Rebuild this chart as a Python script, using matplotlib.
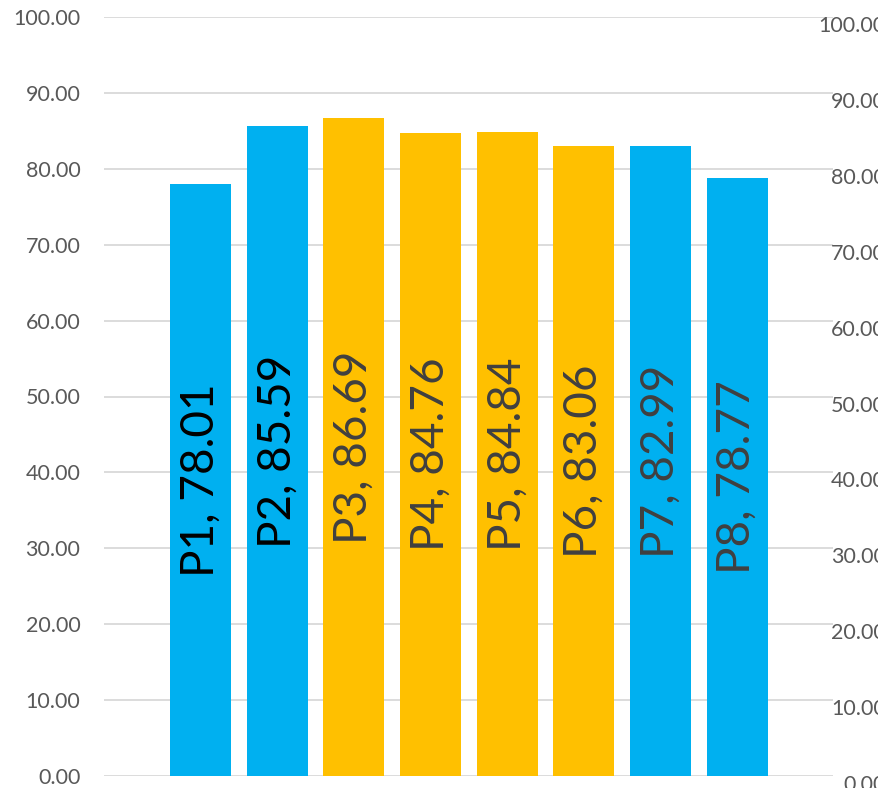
import matplotlib.pyplot as plt
import matplotlib.transforms as mtransforms

# data
labels = ["P1", "P2", "P3", "P4", "P5", "P6", "P7", "P8"]
values = [78.01, 85.59, 86.69, 84.76, 84.84, 83.06, 82.99, 78.77]
groups = ["blue", "blue", "yellow", "yellow", "yellow", "yellow", "blue", "blue"]
label_colors = ["#000000", "#000000", "#404040", "#404040", "#404040", "#404040", "#404040", "#404040"]
y_ticks = [0, 10, 20, 30, 40, 50, 60, 70, 80, 90, 100]

palette = {"blue": "#00B0F0", "yellow": "#FFC000"}

plt.rcParams["font.family"] = ["Lato", "DejaVu Sans"]

fig = plt.figure(figsize=(8.79, 7.88), dpi=100)
ax = fig.add_axes([104 / 879, 12 / 788, 729 / 879, 759 / 788])

x = list(range(len(labels)))
ax.bar(x, values, width=0.795, color=[palette[g] for g in groups], zorder=2)

for xi, val, lab, col in zip(x, values, labels, label_colors):
	ax.text(xi, val / 2, f"{lab}, {val:.2f}", rotation=90, ha="center", va="center",
		fontsize=33, color=col, zorder=3)

ax.set_xlim(-1.26, len(labels) - 1 + 1.25)
ax.set_ylim(0, 100)
ax.set_yticks(y_ticks)
ax.set_yticklabels([f"{t:.2f}" for t in y_ticks])
ax.set_xticks([])
ax.grid(axis="y", color="#D9D9D9", linewidth=1.3, zorder=0)
ax.tick_params(axis="y", length=0, pad=17, labelsize=15.5, labelcolor="#595959")
for sp in ax.spines.values():
	sp.set_visible(False)

# secondary axis on the right, labels hang off the figure edge like the original
ax2 = ax.twinx()
ax2.set_ylim(0, 100)
ax2.set_yticks(y_ticks)
ax2.set_yticklabels([f"{t:.2f}" for t in y_ticks])
ax2.tick_params(axis="y", length=0, pad=38, labelsize=15.5, labelcolor="#595959")
for sp in ax2.spines.values():
	sp.set_visible(False)
shift = mtransforms.ScaledTranslation(0, -7 / 100, fig.dpi_scale_trans)
for lbl in ax2.get_yticklabels():
	lbl.set_horizontalalignment("right")
	lbl.set_transform(lbl.get_transform() + shift)

fig.savefig("out.png", dpi=100)
